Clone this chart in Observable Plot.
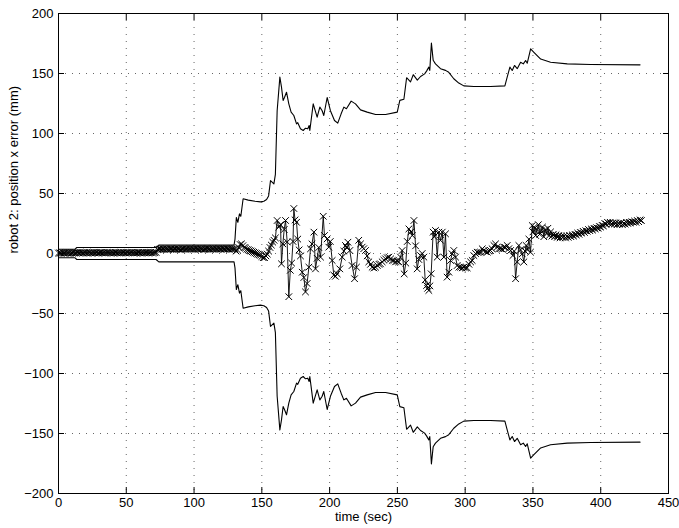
<!DOCTYPE html>
<html><head><meta charset="utf-8">
<script src="https://cdn.jsdelivr.net/npm/d3@7"></script>
<script src="https://cdn.jsdelivr.net/npm/@observablehq/plot@0.6"></script>
<style>body{margin:0;background:#fff} svg{display:block}</style>
</head><body><div id="chart"></div>
<script>
const xTicks = [0, 50, 100, 150, 200, 250, 300, 350, 400, 450];
const yTicks = [-200, -150, -100, -50, 0, 50, 100, 150, 200];
const xLabel = "time (sec)";
const yLabel = "robot 2: position x error (mm)";

// uncertainty bound (upper / lower)
const boundTime = [0, 12, 13.5, 72, 74, 129.5, 130.2, 131.2, 132.3, 133.5, 134.5, 136.2, 140, 145, 149, 151.5, 153.5, 155, 156.4, 158.9, 160, 161.3, 163.3, 164.5, 165.7, 166.7, 168.2, 169.9, 171.6, 173.6, 175.6, 176.5, 178.5, 180.5, 182.2, 183.9, 184.9, 185.4, 187.9, 190.8, 192.8, 194.5, 195.7, 198.2, 200.6, 203.6, 206, 208.5, 210.5, 212.4, 215.9, 219.1, 222.8, 227.7, 233.9, 241.3, 249.9, 251.8, 254.8, 256.8, 259.7, 261.7, 264.7, 267.1, 270.1, 271.5, 273.2, 273.9, 275.1, 276.4, 278.1, 281.8, 285.5, 287.9, 291.6, 295.3, 299, 306.4, 318.7, 329.3, 331, 333, 334.7, 336.4, 338.4, 340.9, 342.9, 344.6, 345.8, 348.3, 350.7, 355.7, 363, 375.3, 392.5, 429];
const upperBound = [3.5, 3.5, 5, 5, 7, 7, 12, 30, 26, 33, 31, 45.6, 44.5, 43.5, 43, 43.5, 45, 48, 60.8, 58, 66, 119, 147, 138.6, 127.5, 130, 134.4, 124.7, 117.8, 115, 108, 109, 103.9, 102.5, 104.4, 103.9, 106.6, 102.5, 124.7, 113.6, 122, 119, 115, 130, 119, 110.8, 108.6, 116.4, 122, 120.6, 127, 124.7, 119.7, 117.8, 115.8, 115.8, 117.8, 127.6, 128.5, 146.5, 143, 149, 144.5, 147.5, 149.7, 152, 155.3, 152.6, 175.4, 161, 158, 154, 152.6, 151, 145.6, 142, 139.7, 139.2, 139.2, 139.7, 147, 155.3, 152.5, 156.7, 154, 159.4, 158, 160.8, 158.6, 170.5, 167.7, 162, 159.4, 158, 157.5, 157.2];
const lowerBound = [-3.5, -3.5, -5, -5, -7, -7, -12, -30, -26, -33, -31, -45.6, -44.5, -43.5, -43, -43.5, -45, -48, -60.8, -58, -66, -119, -147, -138.6, -127.5, -130, -134.4, -124.7, -117.8, -115, -108, -109, -103.9, -102.5, -104.4, -103.9, -106.6, -102.5, -124.7, -113.6, -122, -119, -115, -130, -119, -110.8, -108.6, -116.4, -122, -120.6, -127, -124.7, -119.7, -117.8, -115.8, -115.8, -117.8, -127.6, -128.5, -146.5, -143, -149, -144.5, -147.5, -149.7, -152, -155.3, -152.6, -175.4, -161, -158, -154, -152.6, -151, -145.6, -142, -139.7, -139.2, -139.2, -139.7, -147, -155.3, -152.5, -156.7, -154, -159.4, -158, -160.8, -158.6, -170.5, -167.7, -162, -159.4, -158, -157.5, -157.2];

// position error samples
const errTime = [0, 1, 2, 3, 4, 5, 6, 7, 8, 9, 10, 11, 12, 13, 14, 15, 16, 17, 18, 19, 20, 21, 22, 23, 24, 25, 26, 27, 28, 29, 30, 31, 32, 33, 34, 35, 36, 37, 38, 39, 40, 41, 42, 43, 44, 45, 46, 47, 48, 49, 50, 51, 52, 53, 54, 55, 56, 57, 58, 59, 60, 61, 62, 63, 64, 65, 66, 67, 68, 69, 70, 71, 72,
  73, 74, 75, 76, 77, 78, 79, 80, 81, 82, 83, 84, 85, 86, 87, 88, 89, 90, 91, 92, 93, 94, 95, 96, 97, 98, 99, 100, 101, 102, 103, 104, 105, 106, 107, 108, 109, 110, 111, 112, 113, 114, 115, 116, 117, 118, 119, 120, 121, 122, 123, 124, 125, 126, 127, 128, 129, 130,
  131, 132, 133, 134, 135, 136, 137, 138, 139, 140, 141, 142, 143, 144, 145, 146, 147, 148, 149, 150, 151, 152, 153, 154, 155, 156, 157, 158, 159, 160,
  161.3, 162.5, 163.8, 164.5, 165.5, 166.5, 167.5, 168.7, 169.9, 171, 172, 173, 173.6, 174.5, 175.6, 176.5, 177.5, 178.5, 179.8, 181, 182.2, 183.4, 184.7, 185.9, 187, 188.4, 189.6, 190.8, 192, 193.3, 195.3, 196.2, 198.2, 199.4, 200.5,
  201.9, 203.1, 204.3, 205.6, 207.5, 209.3, 210.5, 211.7, 212.6, 213.5, 214.9, 216.6, 218.4, 219.8, 221.5, 222.8, 224, 225.2, 226.5, 227.7, 228.9, 230.2, 231.4, 232.7, 233.9, 235.2, 236.4, 237.5, 238.8, 240, 241.2, 242.5, 243.7, 245, 246.2, 247.4, 248.6, 249.8, 251,
  252.3, 253.5, 255, 256.2, 257.3, 258.5, 260, 261, 262.2, 263.4, 264.6, 265.8, 267.1, 268.3, 269.5, 270.5, 271.5, 272.3, 273.2, 274, 274.9, 276.4, 277.2, 278.1, 279.4, 280.6, 281.8, 283.1, 284.3, 285.5, 286.7, 288, 289.2, 290.4, 291.6, 292.9, 294.1, 295.4, 296.6, 297.8, 299, 300.3,
  301.5, 302.8, 304, 305.2, 306.4, 307.7, 308.9, 310.1, 311.4, 312.6, 313.8, 315, 316.3, 317.5, 318.7, 319.9, 321.2, 322.4, 323.6, 324.9, 326.1, 327.3, 328.6, 329.8, 331, 332.2, 333.5, 335.2, 336.2, 337.2, 338.4, 339.6, 340.8, 342.1, 343.3, 344.2, 345, 346, 347, 348.2, 349.5,
  350, 351, 352, 353, 354, 355, 356, 357, 358, 359, 360, 361, 362, 363, 364, 365, 366, 367, 368, 369, 370, 371, 372, 373, 374, 375, 376, 377, 378, 379, 380, 381, 382, 383, 384, 385, 386, 387, 388, 389, 390, 391, 392, 393, 394, 395, 396, 397, 398, 399, 400,
  401, 402, 403, 404, 405, 406, 407, 408, 409, 410, 411, 412, 413, 414, 415, 416, 417, 418, 419, 420, 421, 422, 423, 424, 425, 426, 427, 428, 429, 430];
const errValue = [0.4, 0.5, 0.3, 0.6, 0.4, 0.5, 0.4, 0.6, 0.5, 0.3, 0.5, 0.6, 0.4,
  0.6, 0.7, 0.5, 0.8, 0.6, 0.5, 0.7, 0.6, 0.8, 0.5, 0.7, 0.6, 0.5, 0.8, 0.6, 0.7, 0.5, 0.6, 0.8, 0.7, 0.6, 0.5, 0.7, 0.8, 0.6, 0.7, 0.5, 0.6, 0.7, 0.8,
  0.6, 0.7, 0.5, 0.8, 0.6, 0.7, 0.6, 0.5, 0.8, 0.7, 0.6, 0.8, 0.7, 0.5, 0.6, 0.7, 0.8, 0.6, 0.7, 0.5, 0.8, 0.6, 0.7, 0.9, 0.6, 0.8, 0.7, 0.6, 0.8, 0.9,
  3.3, 3.5, 3.6, 3.5, 3.7, 3.5, 3.8, 3.6, 3.5, 3.7, 3.8, 3.6, 3.5, 3.7, 3.6, 3.8, 3.7, 3.5, 3.6, 3.8, 3.7, 3.6, 3.8, 3.7, 3.9, 3.7, 3.8, 3.6, 3.9, 3.8,
  3.6, 3.7, 3.9, 3.8, 3.6, 3.7, 3.8, 3.9, 3.7, 3.6, 3.8, 3.9, 3.7, 3.8, 3.6, 3.9, 3.8, 3.7, 3.9, 3.8, 3.7, 3.9, 3.8, 3.6, 3.8, 3.9, 3.7, 3.8,
  2, 3, 5, 7.5, 8, 6.5, 5, 4.5, 3.5, 3, 2.5, 2, 1.5, 1, 0.5, 0, -0.5, -1, -1.5, -2.5, -3.5, -3.5, -2, -0.5, 2, 5, 7, 9.5, 11, 13,
  27.5, 22, 24, -8.6, 8, 20, 27.5, 9.6, -36, -14, -8, 10, 37.5, 28, 26, 12, 3, -2, -15.6, -20, -32, -25, -11.4, 3.9, 8, 17.8, -12.8, -4, 5, -3, 31, 15, 12.2, 5.3, 10,
  -5.8, -18, -19, -17, -12.8, -3, 2, 6.7, 5, 9.4, 2.5, -10, -21, -11.4, 11, 8, 5.3, 4, 2.5, -2, -7, -9, -11.4, -12, -11.4, -10, -9, -8.6, -7, -5.5, -4.4, -3.5, -3, -4.5, -5.8, -5.8, -7, -6.5, -7,
  -3, 2.5, -17, -8, 10, 20.5, 18, 15, 27.5, 6.4, -12.8, -5, -1.7, 0, -3, -22, -26.7, -29, -30.8, -27, -16.9, 17.8, 14, 19.2, -3, 17.8, 11, 17.8, -3, 16.4, -19.7, -15.6, -5.8, -0.3, 2.5, -3, -10, -11.4, -11.4, -12, -11.4, -12,
  -12, -9, -7, -5.8, -1.7, 0, 1.1, 1, 1.1, 3.9, 2.5, 1.5, 1.1, 2, 2.5, 3.9, 6.7, 8, 5.3, 4, 4, 3.5, 5.3, 5, 6.7, 4, 2.5, -1.7, 2, -21, -7, 6.7, 3, -0.3, -7, 2, 6.7, 3, 12, 1.1, 23.3,
  18, 22, 15, 20, 24, 16, 19, 22, 14, 20, 17, 21, 15, 18, 14.5, 16, 14, 15.5, 13.5, 15, 13, 14.5, 13.5, 14.5, 13, 14.5, 13.5, 15, 14, 15.5, 14.5, 16, 15.5, 17, 16, 17.5, 17, 18.5, 17.5, 19, 18.5, 20, 19, 20.5, 19.5, 21, 20.5, 21.5, 21, 22.5, 22,
  23.5, 23, 25, 24.5, 26, 25, 26, 24.5, 25.5, 24.5, 25.5, 24, 25, 24.5, 25.5, 24, 25, 24.5, 26, 25, 26, 25.5, 26.5, 26, 27, 26, 27.5, 26.5, 28, 27.5];

const upperData = boundTime.map((t, i) => ({t, v: upperBound[i]}));
const lowerData = boundTime.map((t, i) => ({t, v: lowerBound[i]}));
const errData = errTime.map((t, i) => ({t, v: errValue[i]}));

const grid = {stroke: "#000", strokeOpacity: 0.6, strokeDasharray: "1,6", strokeWidth: 1};

const chart = Plot.plot({
  width: 679, height: 528,
  marginLeft: 58, marginRight: 11, marginTop: 13, marginBottom: 35,
  style: {fontFamily: "'Liberation Sans', Arial, Helvetica, sans-serif", fontSize: "13px", background: "#fff", color: "#000"},
  x: {domain: [0, 450]},
  y: {domain: [-200, 200]},
  marks: [
    Plot.gridX(xTicks, grid),
    Plot.gridY(yTicks, grid),
    Plot.line(upperData, {x: "t", y: "v", stroke: "#000", strokeWidth: 1.1}),
    Plot.line(lowerData, {x: "t", y: "v", stroke: "#000", strokeWidth: 1.1}),
    Plot.line(errData, {x: "t", y: "v", stroke: "#000", strokeWidth: 0.9}),
    Plot.dot(errData, {x: "t", y: "v", symbol: "times", r: 3.1, stroke: "#000", strokeWidth: 1}),
    Plot.frame({stroke: "#000"}),
    Plot.axisX(xTicks, {anchor: "bottom", tickSize: -6, tickPadding: 10, label: null}),
    Plot.axisX(xTicks, {anchor: "top", tickSize: -6, tickFormat: () => "", label: null}),
    Plot.axisY(yTicks, {anchor: "left", tickSize: -6, tickPadding: 11, label: null}),
    Plot.axisY(yTicks, {anchor: "right", tickSize: -6, tickFormat: () => "", label: null}),
    Plot.text([xLabel], {frameAnchor: "bottom", dy: 27, text: d => d, fill: "#000"}),
    Plot.text([yLabel], {frameAnchor: "left", dx: -45, rotate: -90, text: d => d, fill: "#000"})
  ]
});
document.getElementById("chart").appendChild(chart);
</script>
</body></html>
